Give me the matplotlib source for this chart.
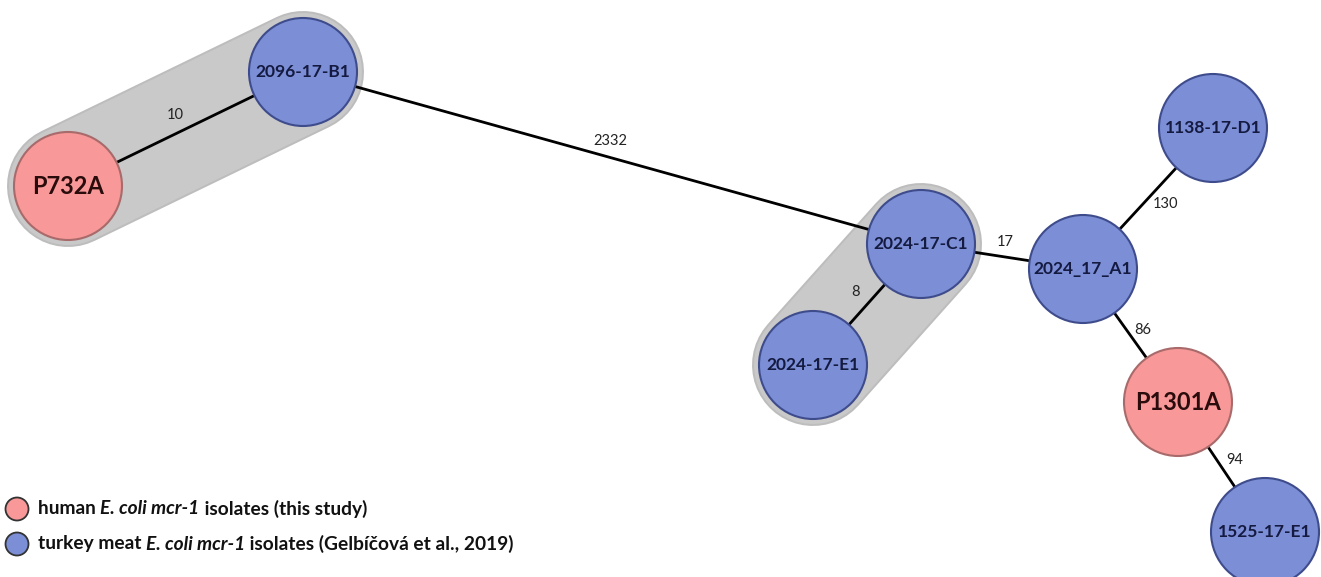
import matplotlib.pyplot as plt
from matplotlib.patches import Circle

# isolates and their source group
nodes = ["P732A", "2096-17-B1", "2024-17-C1", "2024-17-E1",
         "2024_17_A1", "1138-17-D1", "P1301A", "1525-17-E1"]
groups = ["human", "turkey", "turkey", "turkey",
          "turkey", "turkey", "human", "turkey"]

# SNP distances between isolates
edge_src = ["P732A", "2096-17-B1", "2024-17-C1", "2024-17-C1", "2024_17_A1", "2024_17_A1", "P1301A"]
edge_dst = ["2096-17-B1", "2024-17-C1", "2024-17-E1", "2024_17_A1", "1138-17-D1", "P1301A", "1525-17-E1"]
edge_dist = [10, 2332, 8, 17, 130, 86, 94]

# clusters highlighted with a grey hull
clusters = [("P732A", "2096-17-B1"), ("2024-17-C1", "2024-17-E1")]

# legend text split into (text, italic) runs
legend_parts = {
    "human": [("human ", False), ("E. coli mcr-1", True), (" isolates (this study)", False)],
    "turkey": [("turkey meat ", False), ("E. coli mcr-1", True),
               (" isolates (Gelbíčová et al., 2019)", False)],
}

# layout (pixel space of the figure)
layout = {
    "P732A": (68, 186), "2096-17-B1": (303, 72), "2024-17-C1": (921, 244),
    "2024-17-E1": (813, 365), "2024_17_A1": (1083, 269), "1138-17-D1": (1213, 128),
    "P1301A": (1178, 402), "1525-17-E1": (1265, 532),
}
label_offset = [(-10, -14), (-2, -17), (-12, -13), (3, -14), (17, 6), (12, -5), (13, -7)]

R = 54
fill = {"human": "#f89898", "turkey": "#7b8ed6"}
edgec = {"human": "#a86a6a", "turkey": "#3f4c8c"}
textc = {"human": "#2a0c0c", "turkey": "#141a40"}
fsize = {"human": 17, "turkey": 12.5}

plt.rcParams["font.family"] = ["Lato", "DejaVu Sans"]

fig = plt.figure(figsize=(13.21, 5.77), dpi=100)
ax = fig.add_axes([0, 0, 1, 1])
ax.set_xlim(0, 1321)
ax.set_ylim(577, 0)
ax.axis("off")

px = 0.72  # points per pixel at 100 dpi

# grey hulls around clusters
for a, b in clusters:
    (x1, y1), (x2, y2) = layout[a], layout[b]
    ax.plot([x1, x2], [y1, y2], color="#bdbdbd", lw=2 * (R + 7) * px,
            solid_capstyle="round", zorder=1)
    ax.plot([x1, x2], [y1, y2], color="#c9c9c9", lw=2 * (R + 5) * px,
            solid_capstyle="round", zorder=1)

# edges with distance labels
for s, d, dist, (ox, oy) in zip(edge_src, edge_dst, edge_dist, label_offset):
    (x1, y1), (x2, y2) = layout[s], layout[d]
    ax.plot([x1, x2], [y1, y2], color="black", lw=2.0, zorder=2)
    ax.text((x1 + x2) / 2 + ox, (y1 + y2) / 2 + oy, str(dist),
            fontsize=10.5, color="#222222", ha="center", va="center", zorder=3)

# nodes
for name, g in zip(nodes, groups):
    x, y = layout[name]
    ax.add_patch(Circle((x, y), R, facecolor=fill[g], edgecolor=edgec[g],
                        lw=1.5, zorder=4))
    ax.text(x, y, name, fontsize=fsize[g], fontweight="bold", color=textc[g],
            ha="center", va="center", zorder=5)

# legend
renderer = fig.canvas.get_renderer()
for i, g in enumerate(["human", "turkey"]):
    ly = 509 + 35 * i
    ax.add_patch(Circle((17, ly), 11.5, facecolor=fill[g], edgecolor="#333333",
                        lw=1.3, zorder=4))
    x = 38
    for part, italic in legend_parts[g]:
        t = ax.text(x, ly, part, fontsize=13.8, fontweight="bold",
                    fontstyle="italic" if italic else "normal",
                    color="#111111", ha="left", va="center", zorder=5)
        bb = t.get_window_extent(renderer=renderer)
        x = ax.transData.inverted().transform((bb.x1, bb.y0))[0]

fig.savefig("out.png", dpi=100)
